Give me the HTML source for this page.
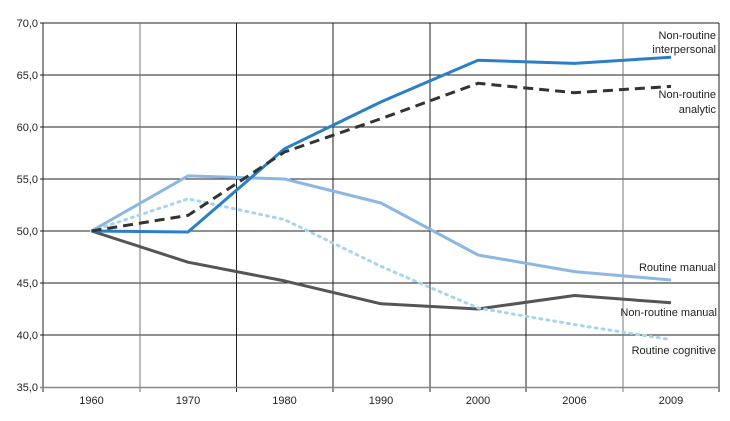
<!DOCTYPE html>
<html><head><style>body{margin:0;background:#fff}svg{display:block}text{font-family:"Liberation Sans",sans-serif;font-size:11px;fill:#222}</style></head><body>
<svg width="730" height="421" xmlns="http://www.w3.org/2000/svg">
<g stroke="#222" stroke-width="1">
<line x1="43" y1="23" x2="719" y2="23"/><line x1="43" y1="75" x2="719" y2="75"/><line x1="43" y1="127" x2="719" y2="127"/><line x1="43" y1="179" x2="719" y2="179"/><line x1="43" y1="231" x2="719" y2="231"/><line x1="43" y1="283" x2="719" y2="283"/><line x1="43" y1="335" x2="719" y2="335"/>
<line x1="43" y1="23" x2="43" y2="392"/>
<line x1="140" y1="23" x2="140" y2="392" stroke="#777"/><line x1="236.5" y1="23" x2="236.5" y2="392"/><line x1="333" y1="23" x2="333" y2="392"/><line x1="430" y1="23" x2="430" y2="392"/><line x1="526" y1="23" x2="526" y2="392"/><line x1="623" y1="23" x2="623" y2="392" stroke="#777"/><line x1="719" y1="23" x2="719" y2="392"/>
<line x1="40" y1="23" x2="43" y2="23"/><line x1="40" y1="75" x2="43" y2="75"/><line x1="40" y1="127" x2="43" y2="127"/><line x1="40" y1="179" x2="43" y2="179"/><line x1="40" y1="231" x2="43" y2="231"/><line x1="40" y1="283" x2="43" y2="283"/><line x1="40" y1="335" x2="43" y2="335"/>
</g>
<line x1="40" y1="387.5" x2="719" y2="387.5" stroke="#888" stroke-width="1.5"/>
<g text-anchor="end"><text x="38" y="27">70,0</text><text x="38" y="79">65,0</text><text x="38" y="131">60,0</text><text x="38" y="183">55,0</text><text x="38" y="235">50,0</text><text x="38" y="287">45,0</text><text x="38" y="339">40,0</text><text x="38" y="391">35,0</text></g>
<g text-anchor="middle"><text x="91.5" y="404">1960</text><text x="188" y="404">1970</text><text x="284.5" y="404">1980</text><text x="381" y="404">1990</text><text x="478" y="404">2000</text><text x="574.5" y="404">2006</text><text x="671" y="404">2009</text></g>
<g fill="none" stroke-width="3" stroke-linejoin="round">
<polyline stroke="#555" points="91.5,231 188,262.2 284.5,280.9 381,303.8 478,309 574.5,295.5 671,302.8"/>
<polyline stroke="#a8d4f0" stroke-dasharray="2,5" stroke-linecap="round" points="91.5,231 188,198.8 284.5,219.6 381,266.4 478,308 574.5,324.6 667,339"/>
<polyline stroke="#8db7e3" points="91.5,231 188,175.9 284.5,179 381,203 478,255 574.5,271.6 671,280"/>
<polyline stroke="#2b7fc6" points="91.5,231 188,232 284.5,148.8 381,101.9 478,60.3 574.5,63.4 671,57.2"/>
<polyline stroke="#333" stroke-dasharray="10,6" points="91.5,231 188,215.4 284.5,152 381,118.7 478,83.3 574.5,92.7 671,86.4"/>
</g>
<g text-anchor="end"><text x="716" y="39">Non-routine</text><text x="716" y="53">interpersonal</text><text x="716" y="98">Non-routine</text><text x="716" y="113">analytic</text><text x="716" y="271">Routine manual</text><text x="717" y="316">Non-routine manual</text><text x="716" y="354">Routine cognitive</text></g>
</svg>
</body></html>
